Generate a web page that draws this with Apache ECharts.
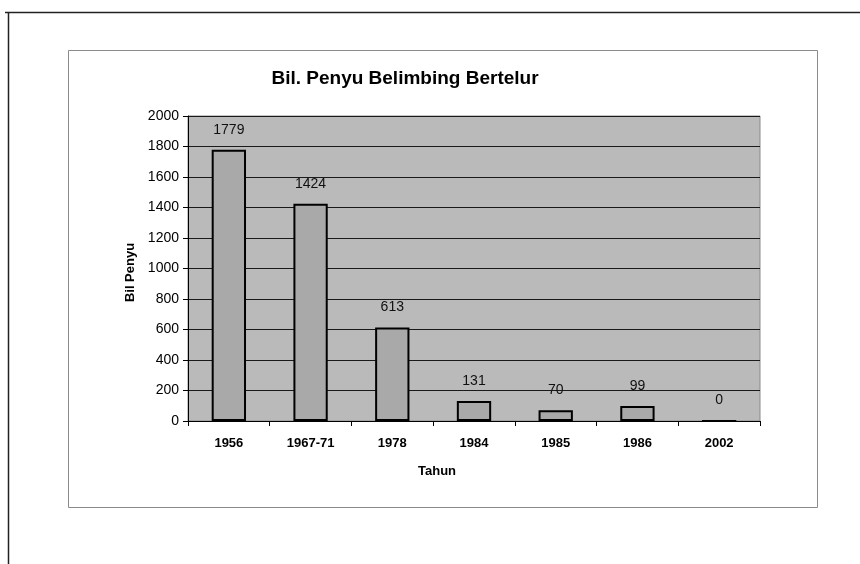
<!DOCTYPE html>
<html>
<head>
<meta charset="utf-8">
<script src="https://cdn.jsdelivr.net/npm/echarts@6/dist/echarts.min.js"></script>
<style>html,body{margin:0;padding:0;background:#fff;}#c{width:860px;height:564px;}</style>
</head>
<body>
<div id="c"></div>
<script>
var categories = ['1956', '1967-71', '1978', '1984', '1985', '1986', '2002'];
var values = [1779, 1424, 613, 131, 70, 99, 0];
var yTicks = [0, 200, 400, 600, 800, 1000, 1200, 1400, 1600, 1800, 2000];

var chart = echarts.init(document.getElementById('c'), null, {renderer: 'canvas'});
chart.setOption({
  backgroundColor: '#ffffff',
  animation: false,
  title: {
    text: 'Bil. Penyu Belimbing Bertelur',
    left: 400, top: 64, textAlign: 'center',
    textStyle: {fontFamily: 'Liberation Sans, Arial', fontWeight: 'bold', fontSize: 19, color: '#000'}
  },
  graphic: [
    {type: 'line', shape: {x1: 5, y1: 12.5, x2: 860, y2: 12.5}, style: {stroke: '#222', lineWidth: 1.5}, silent: true},
    {type: 'line', shape: {x1: 8.5, y1: 12, x2: 8.5, y2: 564}, style: {stroke: '#222', lineWidth: 1.5}, silent: true},
    {type: 'rect', shape: {x: 68.5, y: 50.5, width: 749, height: 457}, style: {fill: 'none', stroke: '#8a8a8a', lineWidth: 1}, silent: true, z: -1}
  ],
  grid: {
    left: 188, top: 116, right: 100, bottom: 143,
    show: true, backgroundColor: '#bababa', borderColor: '#8a8a8a', borderWidth: 1
  },
  xAxis: {
    type: 'category',
    data: categories,
    name: 'Tahun',
    nameLocation: 'middle',
    nameGap: 44,
    nameTextStyle: {fontFamily: 'Liberation Sans, Arial', fontWeight: 'bold', fontSize: 13, color: '#000', padding: [0, 74, 0, 0]},
    axisLine: {show: true, lineStyle: {color: '#000', width: 1}},
    axisTick: {show: true, length: 5, lineStyle: {color: '#000'}},
    axisLabel: {fontFamily: 'Liberation Sans, Arial', fontWeight: 'bold', fontSize: 13, color: '#000', margin: 16},
    splitLine: {show: false}
  },
  yAxis: {
    type: 'value',
    min: 0, max: 2000, interval: 200,
    name: 'Bil Penyu',
    nameLocation: 'middle',
    nameGap: 50,
    nameRotate: 90,
    nameTextStyle: {fontFamily: 'Liberation Sans, Arial', fontWeight: 'bold', fontSize: 13, color: '#000', padding: [0, 8, 0, 0]},
    axisLine: {show: true, lineStyle: {color: '#000', width: 1}},
    axisTick: {show: true, length: 5, lineStyle: {color: '#000'}},
    axisLabel: {fontFamily: 'Liberation Sans, Arial', fontSize: 14, color: '#000', margin: 9,
      formatter: function (v) { return yTicks.indexOf(v) >= 0 ? String(v) : ''; }},
    splitLine: {show: true, lineStyle: {color: '#1a1a1a', width: 1}}
  },
  series: [{
    type: 'bar',
    data: values,
    barWidth: '42%',
    itemStyle: {color: '#a9a9a9', borderColor: '#000', borderWidth: 2},
    label: {show: true, position: 'top', distance: 13, fontFamily: 'Liberation Sans, Arial', fontSize: 14, color: '#111'}
  }]
});
</script>
</body>
</html>
